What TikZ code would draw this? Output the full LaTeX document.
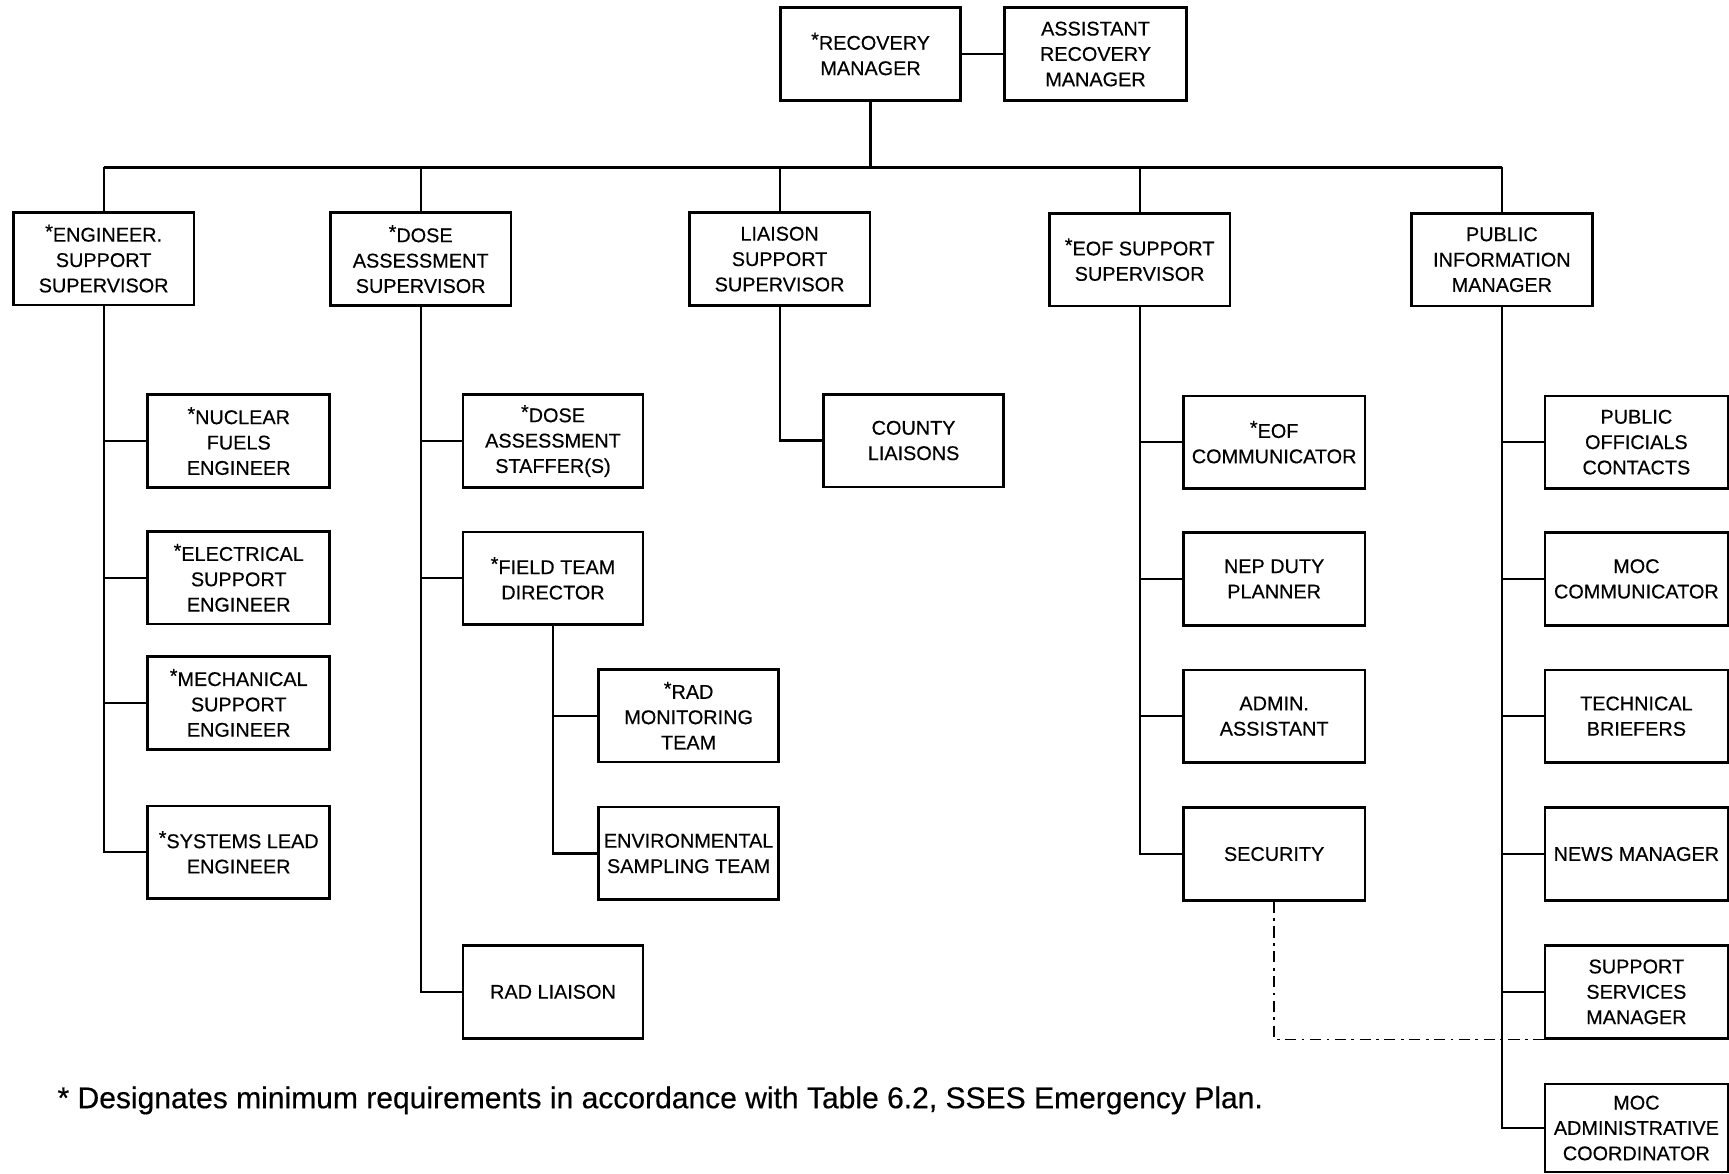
\documentclass[tikz,border=0pt]{standalone}
\usepackage{fontspec}
\setmainfont{Liberation Sans}[FakeBold=0.4]
\newcommand\myast{\raisebox{3pt}{*}}
\begin{document}
\begin{tikzpicture}[x=1pt,y=-1pt,
  box/.style={draw, line width=2.4pt, align=center, inner sep=0pt,
    minimum width=164pt, minimum height=84pt,
    font=\fontsize{18}{23}\selectfont},
  conn/.style={line width=2pt},
  busline/.style={line width=2.8pt},
  dashdot/.style={line width=1.8pt, dash pattern=on 10pt off 5pt on 2.5pt off 5pt}]
\useasboundingbox (0,0) rectangle (1568,1064);
% top
\node[box, minimum width=163pt] (rec) at (789.5,49) {\myast RECOVERY\\MANAGER};
\node[box, minimum width=165pt] (asst) at (993.5,49) {ASSISTANT\\RECOVERY\\MANAGER};
% level 1
\node[box] (eng) at (94,234.5) {\myast ENGINEER.\\SUPPORT\\SUPERVISOR};
\node[box] (dose) at (381.5,235) {\myast DOSE\\ASSESSMENT\\SUPERVISOR};
\node[box] (liai) at (707,235) {LIAISON\\SUPPORT\\SUPERVISOR};
\node[box] (eofs) at (1033.5,235.5) {\myast EOF SUPPORT\\SUPERVISOR};
\node[box] (pim) at (1362,235.5) {PUBLIC\\INFORMATION\\MANAGER};
% engineering
\node[box, minimum width=165pt] (nuc) at (216.5,400) {\myast NUCLEAR\\FUELS\\ENGINEER};
\node[box, minimum width=165pt] (elec) at (216.5,524) {\myast ELECTRICAL\\SUPPORT\\ENGINEER};
\node[box, minimum width=165pt] (mech) at (216.5,637.5) {\myast MECHANICAL\\SUPPORT\\ENGINEER};
\node[box, minimum width=165pt] (sys) at (216.5,773) {\myast SYSTEMS LEAD\\ENGINEER};
% dose
\node[box, minimum width=163pt] (dstaff) at (501.5,400) {\myast DOSE\\ASSESSMENT\\STAFFER(S)};
\node[box, minimum width=163pt] (ftd) at (501.5,524.5) {\myast FIELD TEAM\\DIRECTOR};
\node[box, minimum width=163pt] (radmon) at (624.5,649) {\myast RAD\\MONITORING\\TEAM};
\node[box, minimum width=163pt] (env) at (624.5,774) {ENVIRONMENTAL\\SAMPLING TEAM};
\node[box, minimum width=163pt] (radl) at (501.5,899.5) {RAD LIAISON};
% liaison
\node[box, minimum width=163pt] (county) at (828.5,399.5) {COUNTY\\LIAISONS};
% eof
\node[box, minimum width=165pt] (eofc) at (1155.5,401) {\myast EOF\\COMMUNICATOR};
\node[box, minimum width=165pt] (nep) at (1155.5,525) {NEP DUTY\\PLANNER};
\node[box, minimum width=165pt] (admin) at (1155.5,649.5) {ADMIN.\\ASSISTANT};
\node[box, minimum width=165pt] (sec) at (1155.5,774.5) {SECURITY};
% public information
\node[box, minimum width=166pt] (poc) at (1484,401) {PUBLIC\\OFFICIALS\\CONTACTS};
\node[box, minimum width=166pt] (mocc) at (1484,525) {MOC\\COMMUNICATOR};
\node[box, minimum width=166pt] (tech) at (1484,649.5) {TECHNICAL\\BRIEFERS};
\node[box, minimum width=166pt] (news) at (1484,774.5) {NEWS MANAGER};
\node[box, minimum width=166pt] (ssm) at (1484,899.5) {SUPPORT\\SERVICES\\MANAGER};
\node[box, minimum width=166pt, minimum height=80pt] (moca) at (1484,1023) {MOC\\ADMINISTRATIVE\\COORDINATOR};
% footnote
\node[anchor=base west, inner sep=0pt] (note) at (52,1005)
  {\resizebox{1093pt}{!}{\fontsize{24}{28}\selectfont * Designates minimum requirements in accordance with Table 6.2, SSES Emergency Plan.}};
% connectors
\coordinate (bus) at (789.5,151.5);
\draw[conn] (rec) -- (asst);
\draw[conn] (rec.south) -- (rec.south |- bus);
\draw[busline] (eng.north |- bus) -- (pim.north |- bus);
\foreach \n in {eng,dose,liai,eofs,pim}
  \draw[conn] (\n.north) -- (\n.north |- bus);
\foreach \c in {nuc,elec,mech,sys}
  \draw[conn] (eng.south) |- (\c.west);
\foreach \c in {dstaff,ftd,radl}
  \draw[conn] (dose.south) |- (\c.west);
\foreach \c in {radmon,env}
  \draw[conn] (ftd.south) |- (\c.west);
\draw[conn] (liai.south) |- (county.west);
\foreach \c in {eofc,nep,admin,sec}
  \draw[conn] (eofs.south) |- (\c.west);
\foreach \c in {poc,mocc,tech,news,ssm,moca}
  \draw[conn] (pim.south) |- (\c.west);
\draw[dashdot] (sec.south) |- (ssm.south west);
\end{tikzpicture}
\end{document}
